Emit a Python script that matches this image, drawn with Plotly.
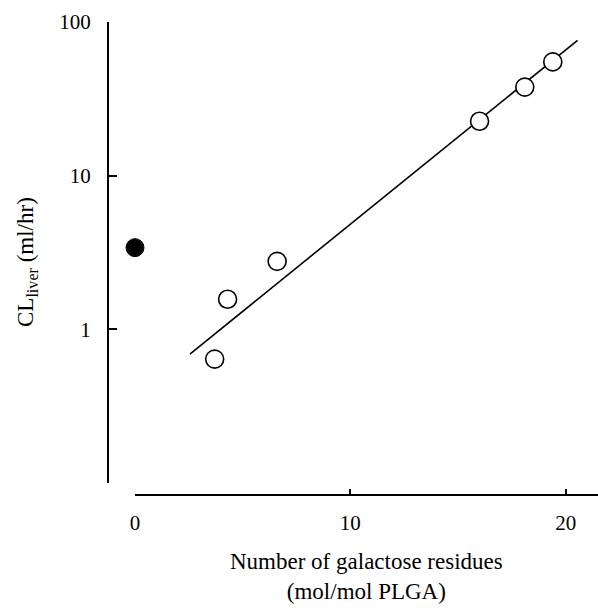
import plotly.graph_objects as go

# Data
ctrl_x = [0]
ctrl_y = [3.4]
gal_x = [3.7, 4.3, 6.6, 16.0, 18.1, 19.4]
gal_y = [0.64, 1.57, 2.77, 22.6, 37.7, 55.0]
fit_x = [2.55, 20.55]
fit_y = [0.69, 76.0]

x_ticks = [0, 10, 20]
y_ticks = [1, 10, 100]
y_ticktext = ["1", "10", "100"]

FONT = "Liberation Serif, Times New Roman, serif"

fig = go.Figure()
fig.add_trace(go.Scatter(x=fit_x, y=fit_y, mode="lines",
                         line=dict(color="black", width=1.6), showlegend=False))
fig.add_trace(go.Scatter(x=gal_x, y=gal_y, mode="markers", cliponaxis=False,
                         marker=dict(size=18, color="white", line=dict(color="black", width=1.6)),
                         showlegend=False))
fig.add_trace(go.Scatter(x=ctrl_x, y=ctrl_y, mode="markers", cliponaxis=False,
                         marker=dict(size=18, color="black", line=dict(color="black", width=1)),
                         showlegend=False))

fig.update_layout(
    width=598, height=610,
    margin=dict(l=108, r=0, t=22, b=115),
    paper_bgcolor="white", plot_bgcolor="white",
    font=dict(family=FONT, color="black", size=21),
    xaxis=dict(range=[0, 21.5], domain=[27/490, 1], anchor="free", position=0,
               tickvals=x_ticks, ticks="inside", ticklen=5, tickwidth=1.5, tickcolor="black",
               showline=True, linecolor="black", linewidth=2, showgrid=False, zeroline=False,
               ticklabelstandoff=9, tickfont=dict(size=21)),
    yaxis=dict(type="log", range=[-1, 2], domain=[12/473, 1], anchor="free", position=0,
               tickvals=y_ticks, ticktext=y_ticktext, ticks="inside", ticklen=8, tickwidth=1.5,
               tickcolor="black", showline=True, linecolor="black", linewidth=2,
               showgrid=False, zeroline=False, ticklabelstandoff=12, tickfont=dict(size=21)),
    annotations=[
        dict(text="CL<sub>liver</sub> (ml/hr)", xref="paper", yref="paper",
             x=(27-108)/490, y=(495-262)/473, textangle=-90, showarrow=False,
             xanchor="center", yanchor="middle", font=dict(size=23, family=FONT)),
        dict(text="Number of galactose residues<br>(mol/mol PLGA)", xref="paper", yref="paper",
             x=(366-108)/490, y=(495-576)/473, showarrow=False,
             xanchor="center", yanchor="middle", font=dict(size=23, family=FONT)),
    ],
)

fig.write_html("out.html")
